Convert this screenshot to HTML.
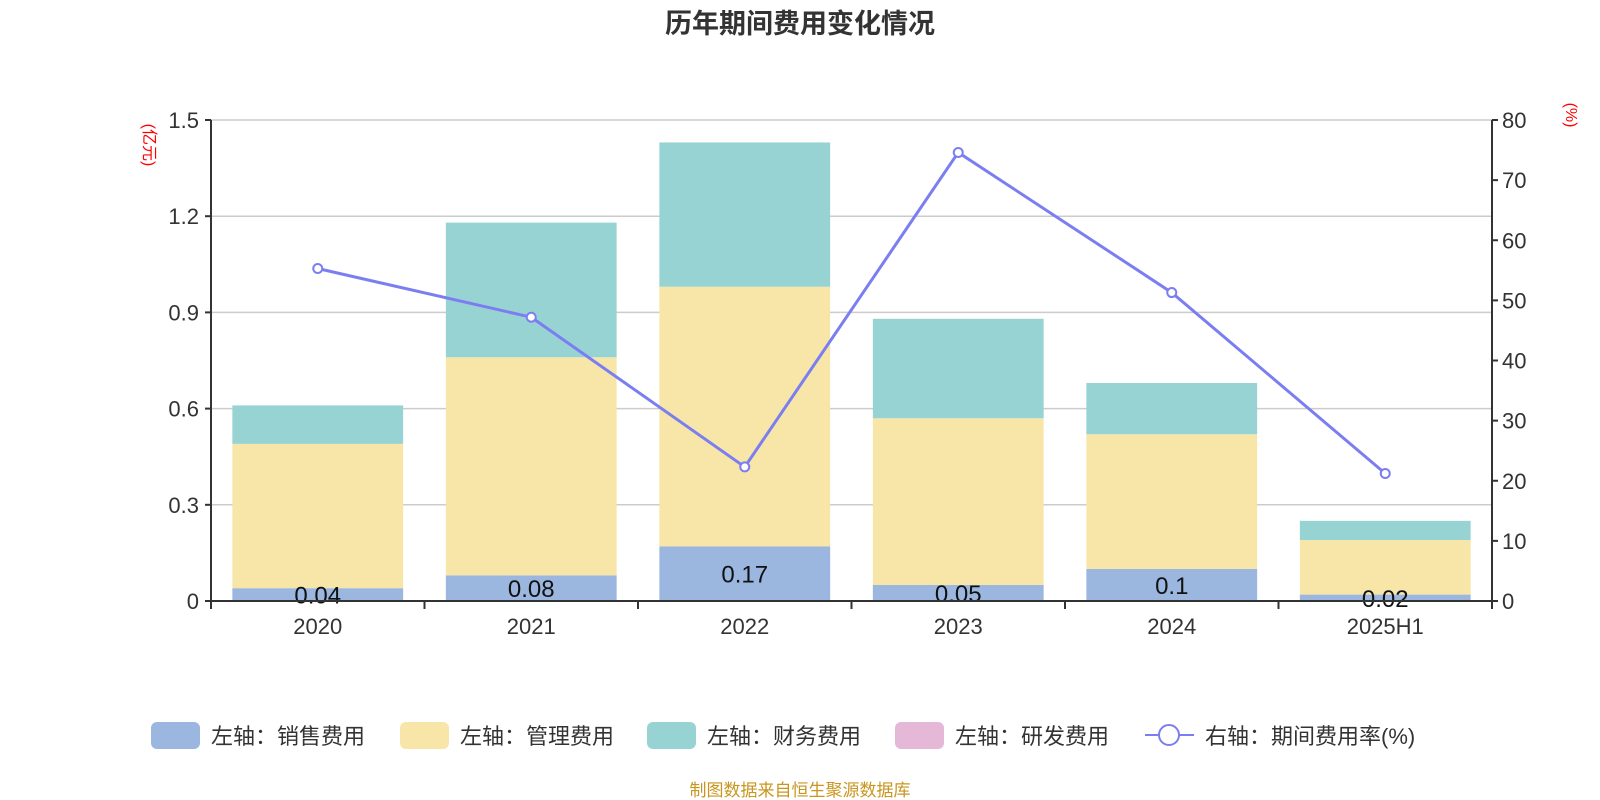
<!DOCTYPE html>
<html><head><meta charset="utf-8"><style>
body{margin:0;background:#fff;}
svg{display:block;font-family:"Liberation Sans","Noto Sans CJK SC",sans-serif;}
</style></head><body>
<svg id="c" width="1600" height="800" xmlns="http://www.w3.org/2000/svg">
<text x="800" y="33" text-anchor="middle" font-size="27" font-weight="bold" fill="#333">历年期间费用变化情况</text>
<text transform="translate(144,145) rotate(90)" text-anchor="middle" font-size="16" fill="red">(亿元)</text>
<text transform="translate(1566,115) rotate(90)" text-anchor="middle" font-size="16" fill="red">(%)</text>
<g id="grid"></g><g id="bars"></g><g id="axes"></g><g id="line"></g><g id="legend"></g>
<text x="800" y="796" text-anchor="middle" font-size="17" fill="#c8961e">制图数据来自恒生聚源数据库</text>
</svg>
<script>
const categories=["2020","2021","2022","2023","2024","2025H1"];
const sales=[0.04,0.08,0.17,0.05,0.1,0.02];
const mgmt=[0.45,0.68,0.81,0.52,0.42,0.17];
const fin=[0.12,0.42,0.45,0.31,0.16,0.06];
const rate=[55.3,47.2,22.3,74.6,51.3,21.2];
const leftTicks=[0,0.3,0.6,0.9,1.2,1.5];
const rightTicks=[0,10,20,30,40,50,60,70,80];
const L=211,R=1492,T=120,B=601;
const NS="http://www.w3.org/2000/svg";
function el(t,a,p){const e=document.createElementNS(NS,t);for(const k in a)e.setAttribute(k,a[k]);document.getElementById(p).appendChild(e);return e;}
const bw=(R-L)/categories.length;
const xc=i=>L+bw*(i+0.5);
const yL=v=>B-(v/1.5)*(B-T);
const yR=v=>B-(v/80)*(B-T);
leftTicks.forEach(v=>{
 if(v>0){const g=el('line',{x1:L,x2:R,y1:yL(v),y2:yL(v),stroke:'#ccc','stroke-width':1.5},'grid');
 
 }
 const t=el('line',{x1:L-6,x2:L,y1:yL(v),y2:yL(v),stroke:'#333','stroke-width':2},'axes');
 
 
 const tx=el('text',{x:L-12,y:yL(v)+8,'text-anchor':'end','font-size':22,fill:'#333'},'axes');
 tx.textContent=v;
 
 
});
rightTicks.forEach(v=>{
 const t=el('line',{x1:R,x2:R+6,y1:yR(v),y2:yR(v),stroke:'#333','stroke-width':2},'axes');
 
 
 const tx=el('text',{x:R+10,y:yR(v)+8,'font-size':22,fill:'#333'},'axes');
 tx.textContent=v;
 
 
});
[[L,T,L,B],[R,T,R,B],[L,B,R,B]].forEach(a=>{
 const l=el('line',{x1:a[0],y1:a[1],x2:a[2],y2:a[3],stroke:'#333','stroke-width':2},'axes');
 
 
});
for(let i=0;i<=categories.length;i++){
 const t=el('line',{x1:L+bw*i,x2:L+bw*i,y1:B,y2:B+8,stroke:'#333','stroke-width':2},'axes');
 
 
}
const colors=['#9bb7e0','#f7e6a8','#98d3d4'];
categories.forEach((c,i)=>{
 const w=bw*0.8,x=xc(i)-w/2;let base=0;
 [sales,mgmt,fin].forEach((s,k)=>{
  const r=el('rect',{x:x,y:yL(base+s[i]),width:w,height:yL(base)-yL(base+s[i]),fill:colors[k]},'bars');
  
  
  base+=s[i];
 });
 const lb=el('text',{x:xc(i),y:yL(sales[i]/2)+9,'text-anchor':'middle','font-size':24,fill:'#111'},'bars');
 lb.textContent=sales[i];
 
 
 const tx=el('text',{x:xc(i),y:B+33,'text-anchor':'middle','font-size':22,fill:'#333'},'axes');
 tx.textContent=c;
 
 
});
const pl=el('polyline',{points:rate.map((v,i)=>xc(i)+','+yR(v)).join(' '),fill:'none',stroke:'#7b7ef0','stroke-width':3},'line');


rate.forEach((v,i)=>{
 const p=el('circle',{cx:xc(i),cy:yR(v),r:4.5,fill:'#fff',stroke:'#7b7ef0','stroke-width':2},'line');
 
 
});
const leg=[['左轴：销售费用','#9bb7e0',151],['左轴：管理费用','#f7e6a8',400],['左轴：财务费用','#98d3d4',647],['左轴：研发费用','#e6b8d8',895]];
leg.forEach(l=>{
 const r=el('rect',{x:l[2],y:722,width:49,height:27,rx:6,fill:l[1]},'legend');
 
 
 const t=el('text',{x:l[2]+60,y:744,'font-size':22,fill:'#333'},'legend');
 t.textContent=l[0];
 
 
});
const ll=el('line',{x1:1145,x2:1194,y1:735,y2:735,stroke:'#7b7ef0','stroke-width':2},'legend');


const lc=el('circle',{cx:1169,cy:735,r:10,fill:'#fff',stroke:'#7b7ef0','stroke-width':2},'legend');


const lt=el('text',{x:1205,y:744,'font-size':22,fill:'#333'},'legend');
lt.textContent='右轴：期间费用率(%)';


</script>
</body></html>
